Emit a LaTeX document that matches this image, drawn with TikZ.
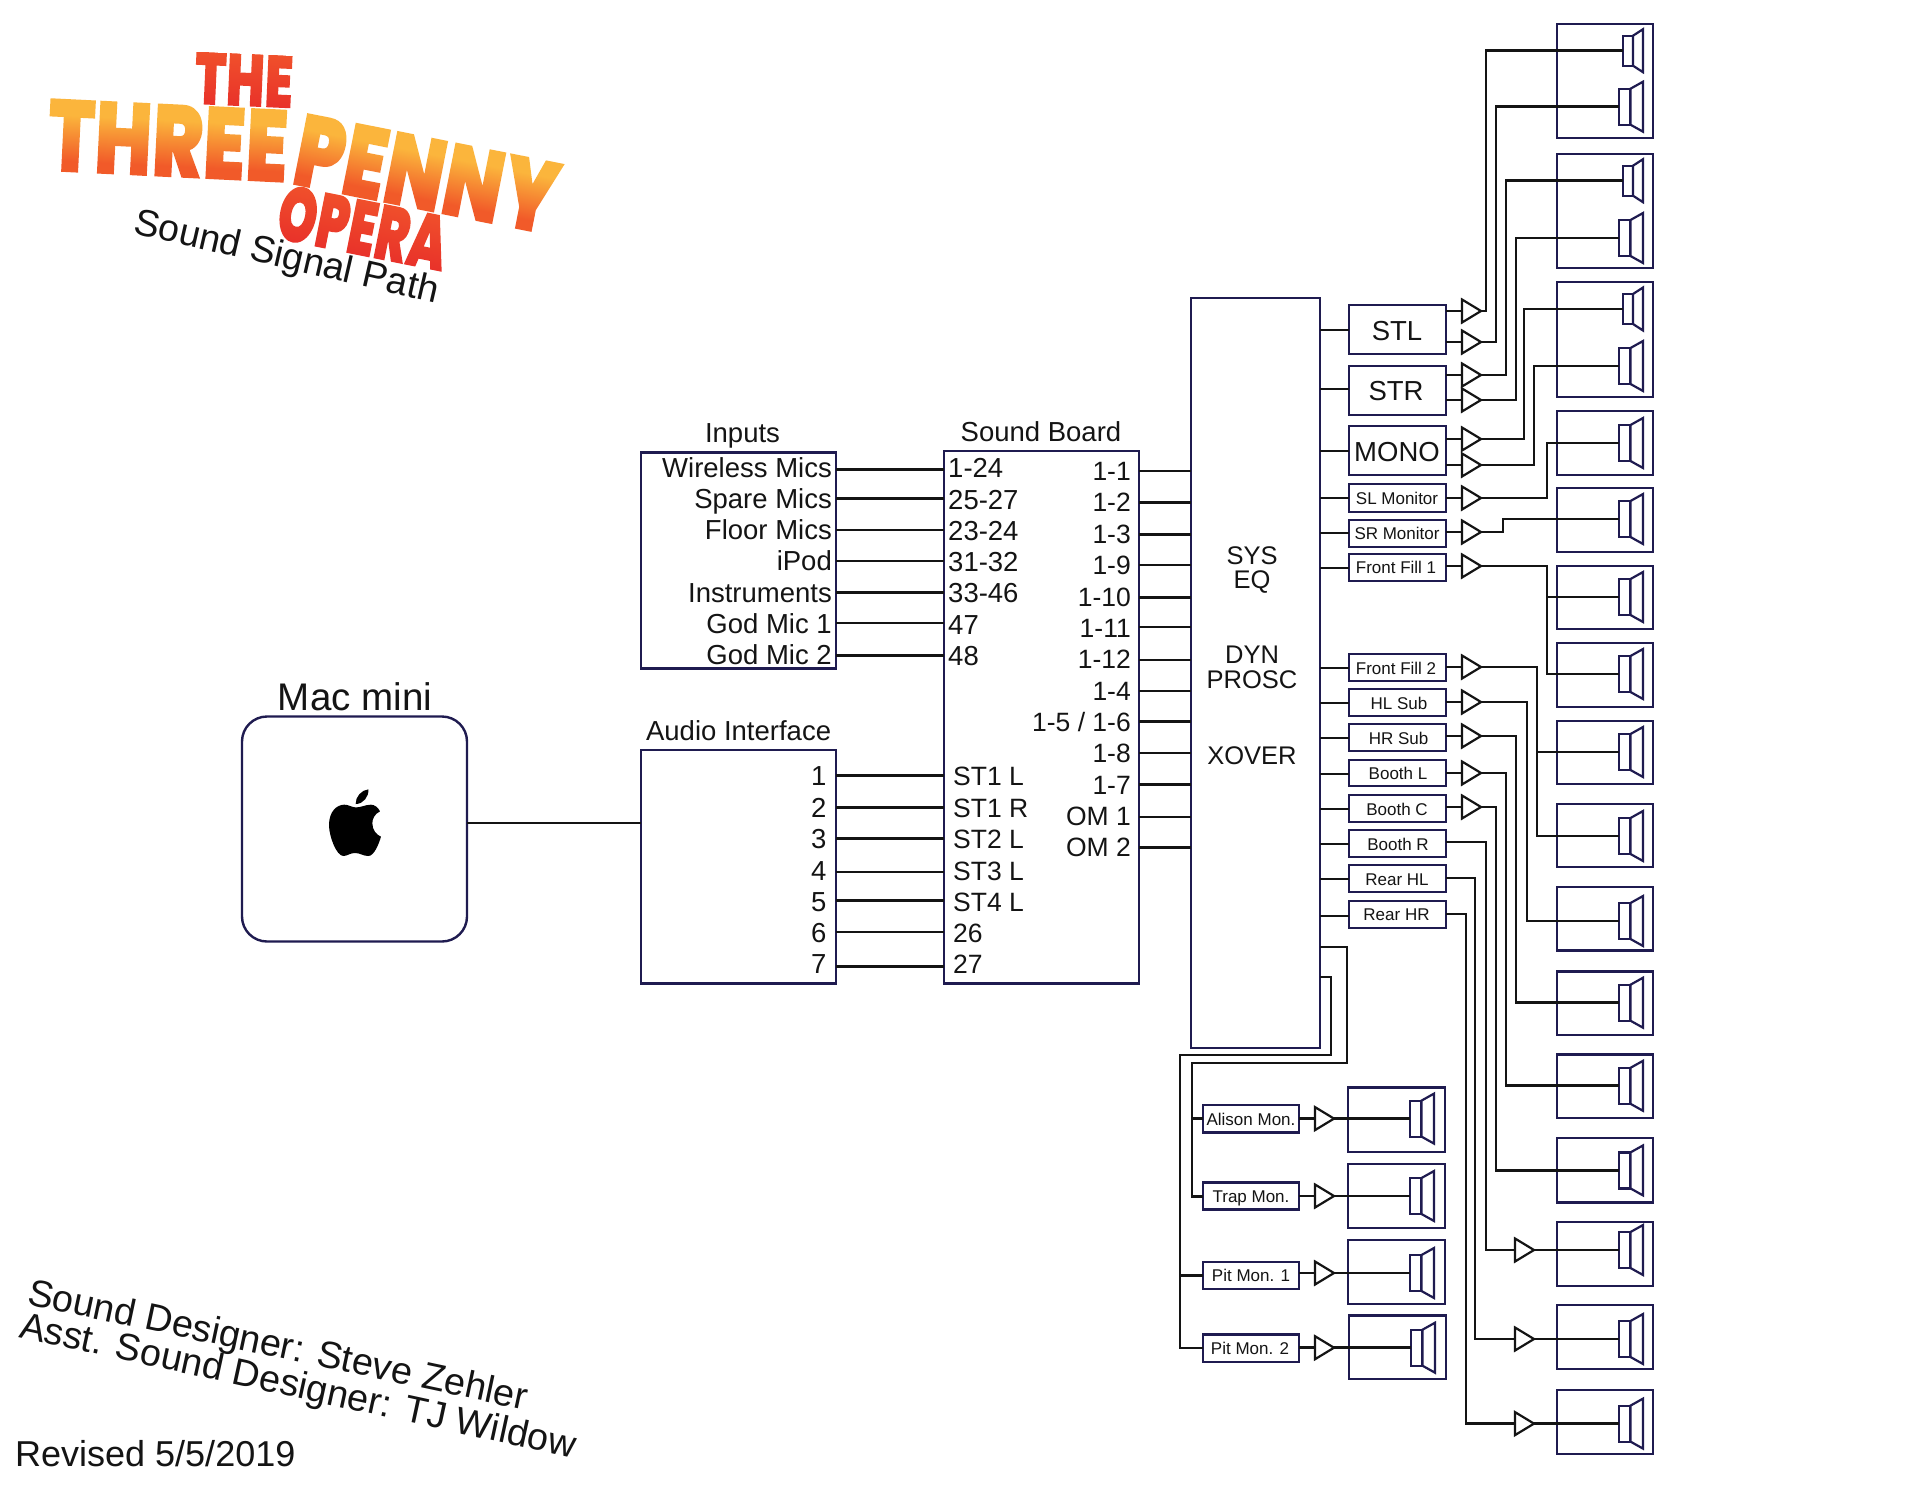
\documentclass[tikz,border=0pt]{standalone}
\usepackage{fontspec}
\usepackage{graphicx}
\setmainfont{Liberation Sans}
\newfontfamily\logofont{Poppins Black}
\usetikzlibrary{calc,shapes.geometric}
\definecolor{navy}{HTML}{1F1B50}
\definecolor{ink}{HTML}{141414}
\definecolor{logoY}{HTML}{FBB53C}
\definecolor{logoO}{HTML}{F15A29}
\definecolor{logoP}{HTML}{F0502B}
\definecolor{logoR}{HTML}{E8302A}
\pgfdeclareverticalshading{shThe}{400pt}{color(0pt)=(logoR); color(56pt)=(logoP)}
\pgfdeclareverticalshading{shThree}{400pt}{color(0pt)=(logoO); color(14pt)=(logoO); color(60pt)=(logoY); color(80pt)=(logoY)}
\pgfdeclareverticalshading{shOpera}{400pt}{color(0pt)=(logoR); color(60pt)=(logoP)}
\makeatletter
% text filled with a vertical gradient: the glyphs clip the shading
\newcommand{\gradword}[4]{{\fontsize{#1}{#1}\logofont
  \scalebox{#2}[1]{\setbox0=\hbox{#3}%
    \pgfsys@invoke{q 7 Tr}\copy0\pgfsys@invoke{0 Tr}%
    \kern-\wd0\hbox to 0pt{\smash{\raisebox{-3pt}{\pgfuseshading{#4}}}\hss}\kern\wd0
    \pgfsys@invoke{Q}}}}
\makeatother
\tikzset{
  box/.style={draw=navy,line width=2.4pt,fill=white,inner sep=0,outer sep=0},
  wire/.style={draw=ink,line width=2.8pt,line join=miter},
  lab/.style={text=ink,inner sep=0,font=\fontsize{27.5}{30}\selectfont},
  lab2/.style={text=ink,inner sep=0,font=\fontsize{26.5}{30}\selectfont},
  eqlab/.style={text=ink,inner sep=0,font=\fontsize{25.5}{30}\selectfont},
  small/.style={text=ink,inner sep=0,font=\fontsize{17}{20}\selectfont},
  drv/.style={draw=navy,line width=2.2pt,fill=white,inner sep=0,outer sep=0},
  logoword/.style={inner sep=0},
  tri/.style={shape=isosceles triangle,isosceles triangle apex angle=62,isosceles triangle stretches,
     draw=ink,line width=2.2pt,fill=white,inner sep=0,outer sep=0,minimum height=19,minimum width=23,anchor=lower side},
}
\newcommand{\bx}[5]{\node[box,minimum width={#4-#2},minimum height={#5-#3}] (#1) at ({(#2+#4)/2},{(#3+#5)/2}) {};}
\newcommand{\bigspk}[3]{\node[drv,minimum width=11.5,minimum height=36] (#1) at ({#2+5.75},#3) {};
  \draw[drv] (#1.north east) -- ++(12.5,-7) -- ++(0,50) -- (#1.south east) -- cycle;}
\newcommand{\smlspk}[3]{\node[drv,minimum width=10,minimum height=30] (#1) at ({#2+5},#3) {};
  \draw[drv] (#1.north east) -- ++(10,-6.5) -- ++(0,43) -- (#1.south east) -- cycle;}
\newcommand{\rowwire}[3]{\draw[wire] (#1.east |- 0,#3) -- (#2.west |- 0,#3);}
\begin{document}
\begin{tikzpicture}[x=1pt,y=-1pt]
\fill[white] (0,0) rectangle (1920,1484);
\useasboundingbox (0,0) rectangle (1920,1484);

% ---------- logo
\node[logoword,rotate=-2.5] (logoA) at (244,80) {\gradword{74}{.69}{THE}{shThe}};
\node[logoword,rotate=-11.3] (logoD) at (363,227.7) {\gradword{78}{.64}{OPERA}{shOpera}};
\node[logoword,rotate=-2.8] (logoB) at (168,140.5) {\gradword{103}{.74}{THREE}{shThree}};
\node[logoword,rotate=-11.2] (logoC) at (427,174) {\gradword{103}{.74}{PENNY}{shThree}};
\node[lab,font=\fontsize{37.6}{40}\selectfont,rotate=-13,anchor=base west] (title) at (132,233) {Sound Signal Path};

% ---------- credits
\node[lab,font=\fontsize{37.8}{40}\selectfont,rotate=-12,anchor=base west] (designer) at (26,1304) {Sound Designer: Steve Zehler};
\node[lab,font=\fontsize{37.8}{40}\selectfont,rotate=-12.3,anchor=base west] (asst) at (18,1337) {Asst. Sound Designer: TJ Wildow};
\node[lab,font=\fontsize{36}{40}\selectfont,anchor=base west] (revised) at (15,1466) {Revised 5/5/2019};

% ---------- Mac mini
\node[box,rounded corners=25pt,minimum width=225,minimum height=225] (mac) at (354.5,829) {};
\node[lab,font=\fontsize{38.5}{40}\selectfont,anchor=base] (macl) at (355,710) {Mac mini};
\begin{scope}[shift={(315,780)},x=.3333pt,y=-.3333pt]
 \fill[black] (120,82) .. controls (135,84) and (150,74) .. (168,74)
   .. controls (178,74) and (190,82) .. (195,94)
   .. controls (178,102) and (172,118) .. (172,130)
   .. controls (172,150) and (185,165) .. (198,170)
   .. controls (192,190) and (178,228) .. (160,228)
   .. controls (145,228) and (135,219) .. (120,219)
   .. controls (105,219) and (97,228) .. (85,228)
   .. controls (65,228) and (42,170) .. (42,135)
   .. controls (42,95) and (65,74) .. (88,74)
   .. controls (100,74) and (110,81) .. (120,82) -- cycle;
 \fill[black] (122,72) .. controls (121,50) and (140,30) .. (160,28)
   .. controls (162,50) and (145,72) .. (122,72) -- cycle;
\end{scope}

% ---------- Inputs and audio interface
\bx{inputs}{640.7}{452.4}{836}{668.6}
\bx{audio}{640.7}{750}{836}{983.6}
\bx{board}{944}{451}{1139}{983.6}
\bx{eq}{1191}{298}{1320}{1048}
\node[lab,anchor=base] (inputsT) at (742.5,442) {Inputs};
\node[lab,anchor=base] (boardT) at (1041,441) {Sound Board};
\node[lab,anchor=base] (audioT) at (738.6,740.6) {Audio Interface};
\draw[wire] (mac.east |- 0,823) -- (audio.west |- 0,823);

\foreach \t/\b/\w [count=\i] in {Wireless Mics/477.5/469.7,Spare Mics/508/498.7,Floor Mics/539.5/530,iPod/570.5/561,Instruments/602/592.5,God Mic 1/633/623,God Mic 2/664/655.6}{
  \node[lab,anchor=base east] (inL\i) at (832,\b) {\t};
  \rowwire{inputs}{board}{\w}
}
\foreach \t/\b [count=\i] in {1-24/477.5,25-27/509,23-24/540,31-32/571,33-46/602.7,47/634.5,48/665}{
  \node[lab,anchor=base west] (brdI\i) at (948,\b) {\t};
}
\foreach \n/\t/\b/\w in {1/ST1 L/785.8/775.4,2/ST1 R/817/807.6,3/ST2 L/848.5/838.6,4/ST3 L/880/872,5/ST4 L/911/900.6,6/26/942/932,7/27/973/966.4}{
  \node[lab2,anchor=base west] (brdA\n) at (953,\b) {\t};
  \node[lab,anchor=base east] (audN\n) at (826.7,\b) {\n};
  \rowwire{audio}{board}{\w}
}
\foreach \t/\b/\w [count=\i] in {1-1/480.4/471,1-2/511.7/502.6,1-3/543.5/534.7,1-9/574.5/565,1-10/606/597.5,1-11/637/627,1-12/668.6/660,1-4/700.4/691,1-5 {/} 1-6/731.4/721.5,1-8/762.8/753,1-7/794/784.6,OM 1/825.6/817,OM 2/856/847.4}{
  \node[lab2,anchor=base east] (brdO\i) at (1131,\b) {\t};
  \rowwire{board}{eq}{\w}
}
% ---------- processor text
\node[eqlab] (eq1) at (1252,556) {SYS};
\node[eqlab] (eq2) at (1252,582) {EQ};
\node[eqlab] (eq3) at (1252,655) {DYN};
\node[eqlab] (eq4) at (1252,680) {PROSC};
\node[eqlab] (eq5) at (1252,755.5) {XOVER};

% ---------- amp channels
\bx{stl}{1349}{305}{1446}{354}
\bx{str}{1349}{366}{1446}{415}
\bx{mono}{1349}{426}{1446}{475}
\bx{slm}{1349}{484}{1446}{512}
\bx{srm}{1349}{520}{1446}{547}
\bx{ffa}{1349}{554}{1446}{581}
\bx{ffb}{1349}{654}{1446}{681}
\bx{hls}{1349}{689}{1446}{716}
\bx{hrs}{1349}{724}{1446}{751}
\bx{bkl}{1349}{760}{1446}{786}
\bx{bkc}{1349}{795}{1446}{822}
\bx{bkr}{1349}{830}{1446}{857}
\bx{rhl}{1349}{865}{1446}{892}
\bx{rhr}{1349}{901}{1446}{928}
\node[lab] (stlL) at (1397,331) {STL};
\node[lab] (strL) at (1396,391) {STR};
\node[lab] (monoL) at (1397,452) {MONO};
\foreach \x/\y/\t in {1397/498/SL Monitor,1397/533/SR Monitor,1396/567/Front Fill 1,1396/668/Front Fill 2,1399/703/HL Sub,1398.5/738/HR Sub,1398/773.5/Booth L,1397/809/Booth C,1398/844/Booth R,1397/879.5/Rear HL,1396.5/915/Rear HR}{
  \node[small] at (\x,\y) {\t};
}
\foreach \b/\y in {stl/330,str/389,mono/451,slm/498,srm/533,ffa/568,ffb/668,hls/703,hrs/738,bkl/774,bkc/809,bkr/844,rhl/879,rhr/916}{
  \draw[wire] (eq.east |- 0,\y) -- (\b.west |- 0,\y);
}

% ---------- speaker cabinets
\bx{cabA}{1557}{24}{1653}{138}
\bx{cabB}{1557}{154}{1653}{268}
\bx{cabC}{1557}{282}{1653}{397}
\bx{cabD}{1557}{411}{1653}{475}
\bx{cabE}{1557}{488}{1653}{552}
\bx{cabF}{1557}{566}{1653}{629}
\bx{cabG}{1557}{643}{1653}{707}
\bx{cabH}{1557}{721}{1653}{784}
\bx{cabI}{1557}{804}{1653}{867}
\bx{cabJ}{1557}{887}{1653}{950.6}
\bx{cabK}{1557}{971.4}{1653}{1035}
\bx{cabL}{1557}{1054.5}{1653}{1118}
\bx{cabM}{1557}{1138}{1653}{1202.4}
\bx{cabN}{1557}{1222}{1653}{1286}
\bx{cabO}{1557}{1305}{1653}{1369}
\bx{cabP}{1557}{1390}{1653}{1454}
\bx{cabQ}{1348}{1087.6}{1445}{1151.7}
\bx{cabR}{1348}{1164}{1445}{1228}
\bx{cabS}{1348}{1240}{1445}{1303.8}
\bx{cabT}{1349}{1315.3}{1446}{1379}
\smlspk{spA}{1623}{50.7}
\bigspk{spB}{1619}{106.7}
\smlspk{spC}{1623}{180.7}
\bigspk{spD}{1619}{238}
\smlspk{spE}{1623}{309}
\bigspk{spF}{1619}{366}
\bigspk{spG}{1619}{443}
\bigspk{spH}{1619}{519}
\bigspk{spI}{1619}{597}
\bigspk{spJ}{1619}{674}
\bigspk{spK}{1619}{752}
\bigspk{spL}{1619}{836}
\bigspk{spM}{1619}{921}
\bigspk{spN}{1619}{1002.7}
\bigspk{spO}{1619}{1085.8}
\bigspk{spP}{1619}{1170.4}
\bigspk{spQ}{1619}{1250}
\bigspk{spR}{1619}{1339}
\bigspk{spS}{1619}{1423.6}
\bigspk{spT}{1410}{1118.6}
\bigspk{spU}{1410}{1196}
\bigspk{spV}{1410}{1273}
\bigspk{spW}{1411}{1347.7}

% ---------- amplifiers
\foreach \n/\y/\b in {a/311/stl,b/342/stl,c/375/str,d/400/str,e/439/mono,f/465/mono,g/498/slm,h/532/srm,i/566/ffa,j/667/ffb,k/702/hls,l/736/hrs,m/773/bkl,n/807/bkc}{
  \draw[wire] (\b.east |- 0,\y) -- ++(20,0);
}
\foreach \n/\y/\d/\s in {a/311/5/spA,b/342/15/spB,c/375/25/spC,d/400/35/spD,e/439/43/spE,f/465/53/spF,g/498/66/spG,h/532/22/spH,i/566/66/spI,i/566/66/spJ,j/667/56/spK,j/667/56/spL,k/702/46/spM,l/736/35/spN,m/773/25/spO,n/807/15/spP}{
  \draw[wire] (1475,\y) -- (1481+\d,\y) |- (\s.west);
}
\foreach \n/\y in {a/311,b/342,c/375,d/400,e/439,f/465,g/498,h/532,i/566,j/667,k/702,l/736,m/773,n/807}{
  \node[tri] (amp\n) at (1462,\y) {};
}
\draw[wire] (bkr.east |- 0,842) -- ++(40,0) |- (spQ.west);
\draw[wire] (rhl.east |- 0,878) -- ++(29,0) |- (spR.west);
\draw[wire] (rhr.east |- 0,914) -- ++(20,0) |- (spS.west);
\node[tri] (ampq) at (1515,1250) {};
\node[tri] (ampr) at (1515,1339) {};
\node[tri] (amps) at (1515,1423.6) {};

% ---------- monitors
\bx{ali}{1203}{1105}{1299}{1132.6}
\bx{trp}{1203}{1182.6}{1299}{1209.6}
\bx{pta}{1203}{1261.7}{1299}{1289}
\bx{ptb}{1203}{1334.4}{1299}{1361.7}
\node[small] at (1251,1119) {Alison Mon.};
\node[small] at (1251,1198) {Trap Mon.};
\node[small] at (1251,1275.5) {Pit Mon. 1};
\node[small] at (1250,1348.5) {Pit Mon. 2};
\coordinate (busA) at (1347,947);
\coordinate (busAb) at (1192,1063);
\coordinate (busB) at (1331,977);
\coordinate (busBb) at (1180,1055);
\draw[wire] (eq.east |- busA) -- (busA) |- (busAb) |- (trp.west);
\draw[wire] (busAb |- ali) -- (ali.west);
\draw[wire] (eq.east |- busB) -- (busB) |- (busBb) |- (ptb.west);
\draw[wire] (busBb |- pta) -- (pta.west);
\foreach \b/\y/\s/\n in {ali/1118.6/spT/o,trp/1196/spU/p,pta/1273/spV/q,ptb/1347.7/spW/r}{
  \draw[wire] (\b.east |- 0,\y) -- (\s.west);
  \node[tri] (mon\n) at (1315,\y) {};
}
\draw[wire] (ampq.apex) -- (spQ.west);
\draw[wire] (ampr.apex) -- (spR.west);
\draw[wire] (amps.apex) -- (spS.west);
\end{tikzpicture}
\end{document}
